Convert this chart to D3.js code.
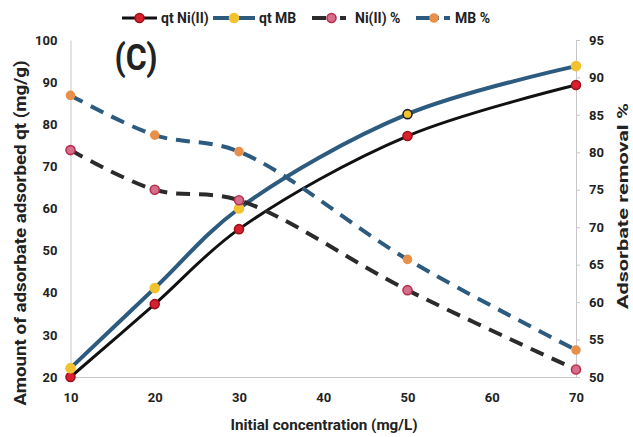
<!DOCTYPE html>
<html>
<head>
<meta charset="utf-8">
<script src="https://cdn.jsdelivr.net/npm/d3@7"></script>
<style>
  html, body { margin: 0; padding: 0; background: #fff; }
  svg { display: block; }
  text { font-family: "Liberation Sans Narrow", "Roboto", "Noto Sans", sans-serif; font-weight: bold; fill: #222; }
</style>
</head>
<body>
<svg id="chart" width="633" height="437"></svg>
<script>
// ---- data ----
const concentrations = [10, 20, 30, 50, 70];
const qtNi = [20, 37.3, 55.1, 77.2, 89.3];
const qtMB = [22.1, 41.1, 60.0, 82.4, 93.8];
const pctNi = [80.3, 75.0, 73.6, 61.6, 51.0];
const pctMB = [87.6, 82.3, 80.1, 65.7, 53.6];
const xTicks = [10, 20, 30, 40, 50, 60, 70];
const yLeftTicks = [20, 30, 40, 50, 60, 70, 80, 90, 100];
const yRightTicks = [50, 55, 60, 65, 70, 75, 80, 85, 90, 95];
const seriesNames = ["qt Ni(II)", "qt MB", "Ni(II) %", "MB %"];

// ---- layout ----
const svg = d3.select("#chart");
const plotL = 70.5, plotR = 576, plotT = 40, plotB = 377;

const x = d3.scaleLinear().domain([10, 70]).range([plotL, plotR]);
const yL = d3.scaleLinear().domain([20, 100]).range([plotB, plotT]);
const yR = d3.scaleLinear().domain([50, 95]).range([plotB, plotT]);

// axes
const gL = svg.append("g").attr("transform", `translate(${plotL},0)`)
  .call(d3.axisLeft(yL).tickValues(yLeftTicks).tickSize(0).tickPadding(13));
const gR = svg.append("g").attr("transform", `translate(${plotR},0)`)
  .call(d3.axisRight(yR).tickValues(yRightTicks).tickSize(4).tickPadding(9));
const gB = svg.append("g").attr("transform", `translate(0,${plotB})`)
  .call(d3.axisBottom(x).tickValues(xTicks).tickSize(0).tickPadding(16));
[gL, gR, gB].forEach(g => {
  g.selectAll(".domain").attr("stroke", "#c8c8c8").attr("stroke-width", 1);
  g.selectAll(".tick line").attr("stroke", "#c8c8c8");
  g.selectAll(".tick text").attr("font-size", 13).attr("fill", "#222")
    .style("font-family", '"Liberation Sans Narrow", "Roboto", sans-serif').style("font-weight", "bold");
});

// axis titles
svg.append("text")
  .attr("transform", "translate(26,233) rotate(-90)")
  .attr("text-anchor", "middle").attr("font-size", 16)
  .attr("textLength", 345).attr("lengthAdjust", "spacingAndGlyphs")
  .text("Amount of adsorbate adsorbed qt (mg/g)");
svg.append("text")
  .attr("transform", "translate(628,206) rotate(-90)")
  .attr("text-anchor", "middle").attr("font-size", 15)
  .attr("textLength", 206).attr("lengthAdjust", "spacingAndGlyphs")
  .text("Adsorbate removal %");
svg.append("text")
  .attr("x", 324).attr("y", 430)
  .attr("text-anchor", "middle").attr("font-size", 15)
  .attr("textLength", 187).attr("lengthAdjust", "spacingAndGlyphs")
  .text("Initial concentration (mg/L)");

// panel label
svg.append("text").attr("x", 136).attr("y", 70).attr("text-anchor", "middle")
  .attr("font-size", 36).attr("fill", "#111")
  .attr("textLength", 43).attr("lengthAdjust", "spacingAndGlyphs")
  .style("font-family", '"Liberation Sans Narrow", "Roboto", sans-serif')
  .text("(C)");

// series
const series = [
  {name: seriesNames[0], vals: qtNi, y: yL, stroke: "#111", width: 3, dash: null,
   mFill: "#d9202e", mStroke: "#a0101c", r: 4.5},
  {name: seriesNames[1], vals: qtMB, y: yL, stroke: "#2d5b80", width: 4, dash: null,
   mFill: "#f2c230", mStroke: "#f2c230", r: 4.5},
  {name: seriesNames[2], vals: pctNi, y: yR, stroke: "#2b2b2b", width: 4, dash: "14,9",
   mFill: "#d66f8c", mStroke: "#b8304f", r: 4.5},
  {name: seriesNames[3], vals: pctMB, y: yR, stroke: "#2d5b80", width: 4, dash: "14,9",
   mFill: "#e8904a", mStroke: "#e8904a", r: 4}
];

series.forEach((s, si) => {
  const pts = concentrations.map((c, i) => [x(c), s.y(s.vals[i])]);
  const line = d3.line().curve(d3.curveCatmullRom.alpha(0.5));
  svg.append("path").attr("d", line(pts))
    .attr("fill", "none").attr("stroke", s.stroke).attr("stroke-width", s.width)
    .attr("stroke-dasharray", s.dash);
  svg.selectAll(null).data(pts).enter().append("circle")
    .attr("cx", d => d[0]).attr("cy", d => d[1]).attr("r", s.r)
    .attr("fill", s.mFill)
    .attr("stroke", (d, i) => (si === 1 && i === 3) ? "#222" : s.mStroke)
    .attr("stroke-width", 1.6);
});

// legend
const legendPos = [
  {x0: 122, x1: 157, tx: 161},
  {x0: 213, x1: 255, tx: 259},
  {x0: 312, x1: 351, tx: 355},
  {x0: 416, x1: 452, tx: 455}
];
const ly = 18;
series.forEach((s, i) => {
  const p = legendPos[i];
  svg.append("line").attr("x1", p.x0).attr("x2", p.x1).attr("y1", ly).attr("y2", ly)
    .attr("stroke", s.stroke).attr("stroke-width", s.width)
    .attr("stroke-dasharray", s.dash ? "14,5,4,5,6" : null);
  svg.append("circle").attr("cx", (p.x0 + p.x1) / 2).attr("cy", ly).attr("r", s.r)
    .attr("fill", s.mFill).attr("stroke", s.mStroke).attr("stroke-width", 1.6);
  svg.append("text").attr("x", p.tx).attr("y", ly + 5).attr("font-size", 14)
    .text(s.name);
});
</script>
</body>
</html>
